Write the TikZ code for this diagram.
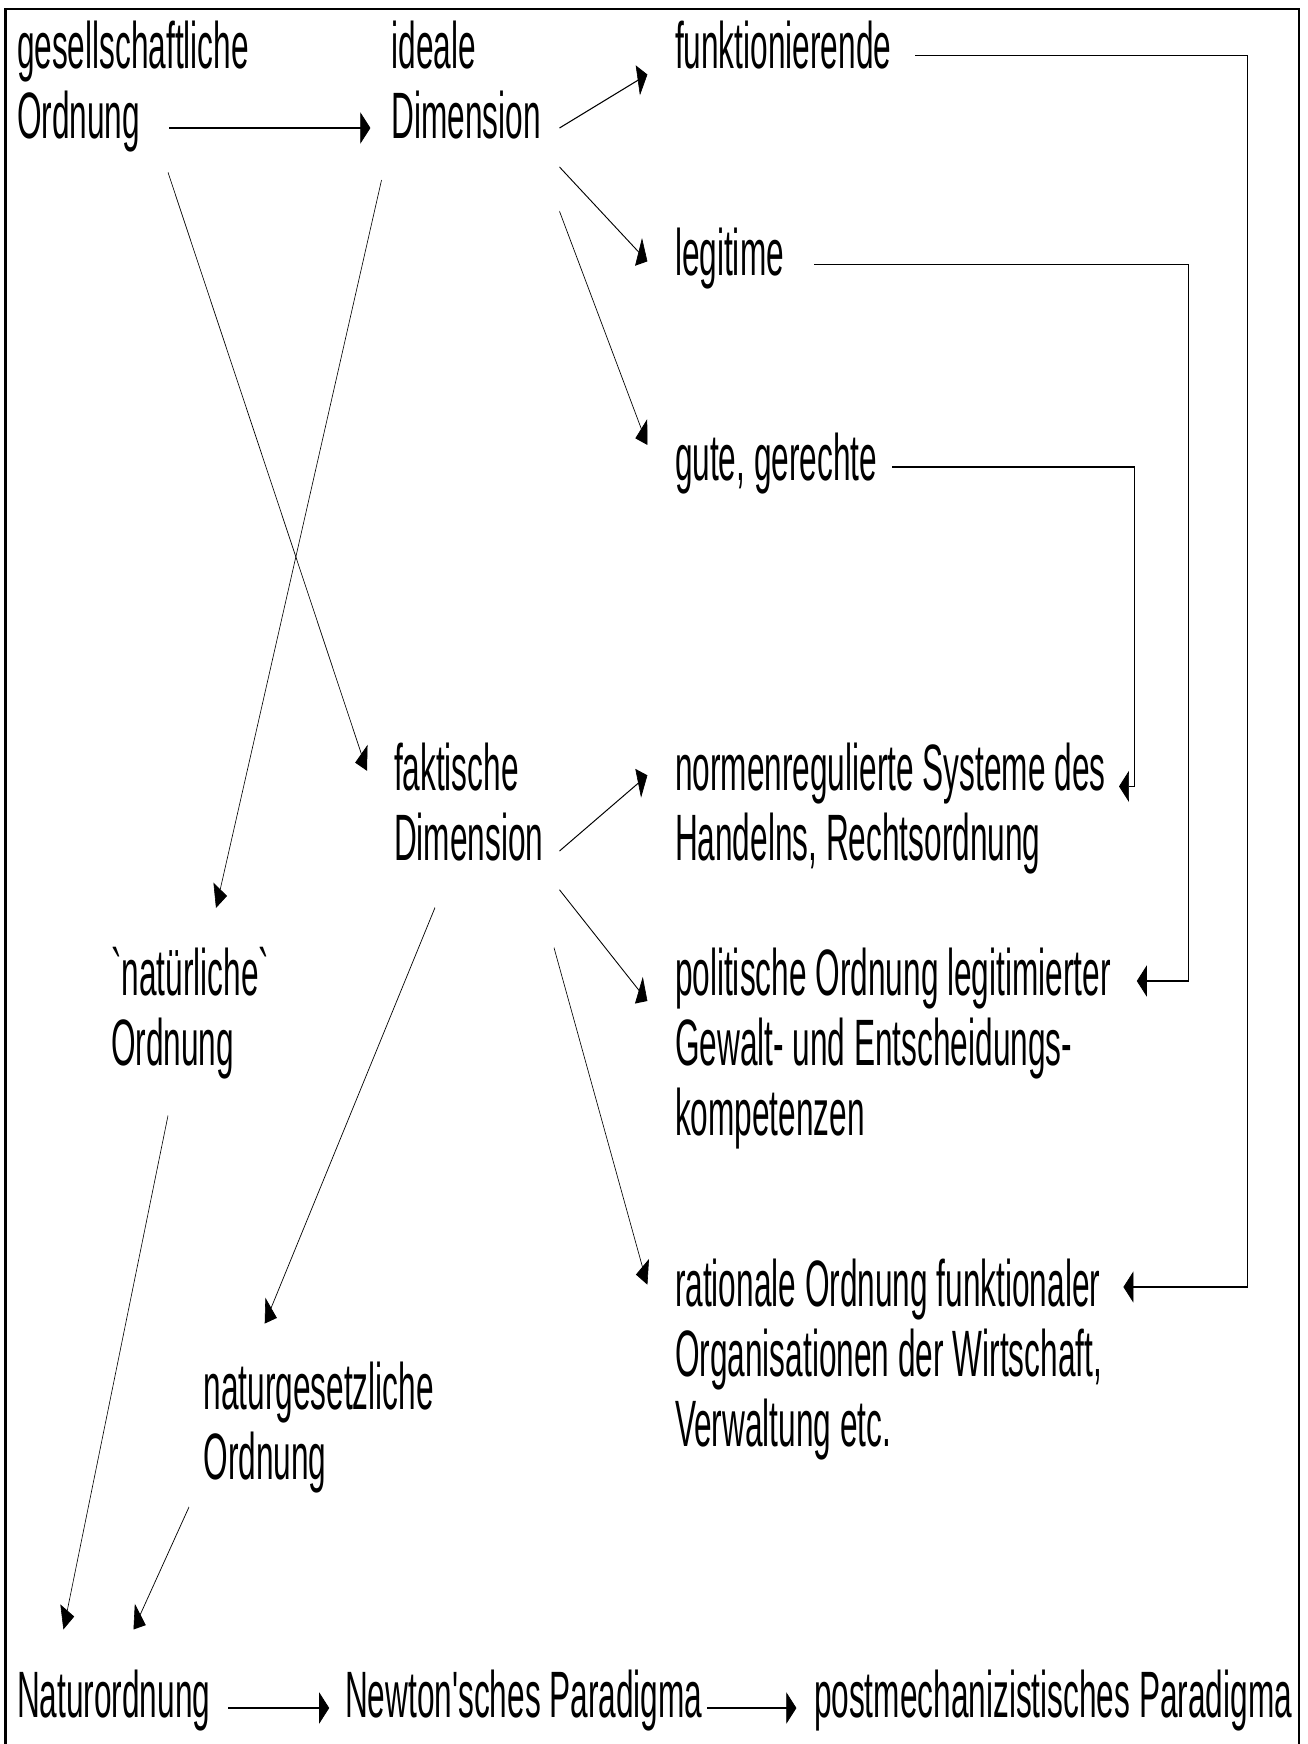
\documentclass[tikz,border=0pt]{standalone}
\usepackage{fontspec}
\setmainfont{Liberation Sans}[Ligatures=TeXOff]
\usetikzlibrary{arrows.meta}
\begin{document}
\begin{tikzpicture}[
  lbl/.style={anchor=base west, inner sep=0pt, outer sep=0pt, font=\fontsize{32.8}{35}\selectfont},
  arr/.style={-{Triangle[length=10.35pt,width=15.5pt]}, line width=0.6pt},
  framestyle/.style={line width=1.1pt}]
\path[use as bounding box] (0,0) rectangle (653.5pt,-872pt);
\draw[framestyle] (2.75pt,-880pt) -- (2.75pt,-4.5pt) -- (649.5pt,-4.5pt) -- (649.5pt,-880pt);
\begin{scope}[transform canvas={xscale=0.482}, x=1.037344pt, y=-0.5pt]
\node[lbl] (A) at (17,69) {\vtop{\hbox{gesellschaftliche}\hbox{Ordnung}}};
\node[lbl] (B) at (391.5,69) {\vtop{\hbox{ideale}\hbox{Dimension}}};
\node[lbl] (F) at (675,69) {funktionierende};
\node[lbl] (L) at (675,275) {legitime};
\node[lbl] (G) at (675,480.5) {gute, gerechte};
\node[lbl] (K) at (394,790) {\vtop{\hbox{faktische}\hbox{Dimension}}};
\node[lbl] (N) at (675,790) {\vtop{\hbox{normenregulierte Systeme des}\hbox{Handelns, Rechtsordnung}}};
\node[lbl] (Nat) at (111,995.5) {\vtop{\hbox{`natürliche`}\hbox{Ordnung}}};
\node[lbl] (P) at (675,995.5) {\vtop{\hbox{politische Ordnung legitimierter}\hbox{Gewalt- und Entscheidungs-}\hbox{kompetenzen}}};
\node[lbl] (R) at (675,1306) {\vtop{\hbox{rationale Ordnung funktionaler}\hbox{Organisationen der Wirtschaft,}\hbox{Verwaltung etc.}}};
\node[lbl] (NG) at (203.5,1409) {\vtop{\hbox{naturgesetzliche}\hbox{Ordnung}}};
\node[lbl] (NO) at (17,1717) {Naturordnung};
\node[lbl] (NW) at (345,1717) {Newton'sches Paradigma};
\node[lbl] (PM) at (814,1717) {postmechanizistisches Paradigma};
% straight arrows
\draw[arr] ([shift={(152,59)}]A.base west) -- ([shift={(-21.1,59)}]B.base west);
\draw[arr] ([shift={(168,59)}]B.base west) -- ([shift={(-27.6,5.5)}]F.base west);
\draw[arr] ([shift={(168,98)}]B.base west) -- ([shift={(-27.6,-13.6)}]L.base west);
\draw[arr] ([shift={(168,142.3)}]B.base west) -- ([shift={(-27.6,-35.5)}]G.base west);
\draw[arr] ([shift={(151,103.4)}]A.base west) -- ([shift={(-27,-19.2)}]K.base west);
\draw[arr] ([shift={(-10,111.2)}]B.base west) -- ([shift={(105,-87.5)}]Nat.base west);
\draw[arr] ([shift={(165.5,61)}]K.base west) -- ([shift={(-27.6,-14.7)}]N.base west);
\draw[arr] ([shift={(165.5,99.8)}]K.base west) -- ([shift={(-27.6,5.5)}]P.base west);
\draw[arr] ([shift={(160,157.7)}]K.base west) -- ([shift={(-27.6,-21.3)}]R.base west);
\draw[arr] ([shift={(41,117.6)}]K.base west) -- ([shift={(61.2,-85.4)}]NG.base west);
\draw[arr] ([shift={(57,120.1)}]Nat.base west) -- ([shift={(46.4,-87.5)}]NO.base west);
\draw[arr] ([shift={(-14.5,98)}]NG.base west) -- ([shift={(116.5,-87.5)}]NO.base west);
\draw[arr] ([shift={(211,-9)}]NO.base west) -- ([shift={(-15.8,-9)}]NW.base west);
\draw[arr] ([shift={(362.4,-9)}]NW.base west) -- ([shift={(-17.6,-9)}]PM.base west);
% elbow connectors
\draw[arr] ([shift={(240.4,-13.4)}]F.base west) -- ++(331.6,0) |- ([shift={(448.4,-19)}]R.base west);
\draw[arr] ([shift={(139.2,-10.3)}]L.base west) -- ++(373.8,0) |- ([shift={(461.8,-14.5)}]P.base west);
\draw[arr] ([shift={(217,-13.5)}]G.base west) -- ++(242.5,0) |- ([shift={(444,-3.6)}]N.base west);
\end{scope}
\end{tikzpicture}
\end{document}
